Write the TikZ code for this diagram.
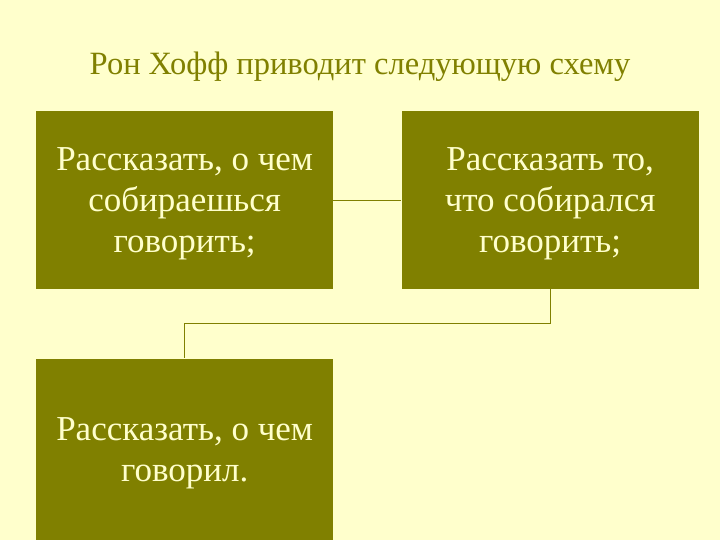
\documentclass[tikz,border=0pt]{standalone}
\usepackage{fontspec}
\setmainfont{Liberation Serif}
\usetikzlibrary{positioning}
\definecolor{olivebox}{HTML}{808000}
\definecolor{paleyellow}{HTML}{FFFFCC}

\begin{document}
\begin{tikzpicture}[x=1pt,y=-1pt,node distance=68pt,
		box/.style={rectangle,fill=olivebox,text=paleyellow,minimum width=297pt,minimum height=178pt,align=center,inner sep=0pt,text depth=-12pt,font=\fontsize{35}{41}\selectfont},
		link/.style={draw=olivebox,line width=0.8pt}]
		\fill[paleyellow] (0,0) rectangle (720,540);
		\useasboundingbox (0,0) rectangle (720,540);
		\node[text=olivebox,font=\fontsize{32.5}{36}\selectfont] (title) at (360,67) {Рон Хофф приводит следующую схему};

		\node[box,anchor=north west] (say1) at (36,111) {Рассказать, о чем\\собираешься\\говорить;};
		\node[box,right=68pt of say1] (say2) {Рассказать то,\\что собирался\\говорить;};
		\node[box,below=69pt of say1,minimum height=182pt] (say3) {Рассказать, о чем\\говорил.};

		\draw[link] (say1) -- (say2);
		\draw[link] (say2.south) -- ++(0,34) -| (say3.north);
	\end{tikzpicture}
\end{document}
